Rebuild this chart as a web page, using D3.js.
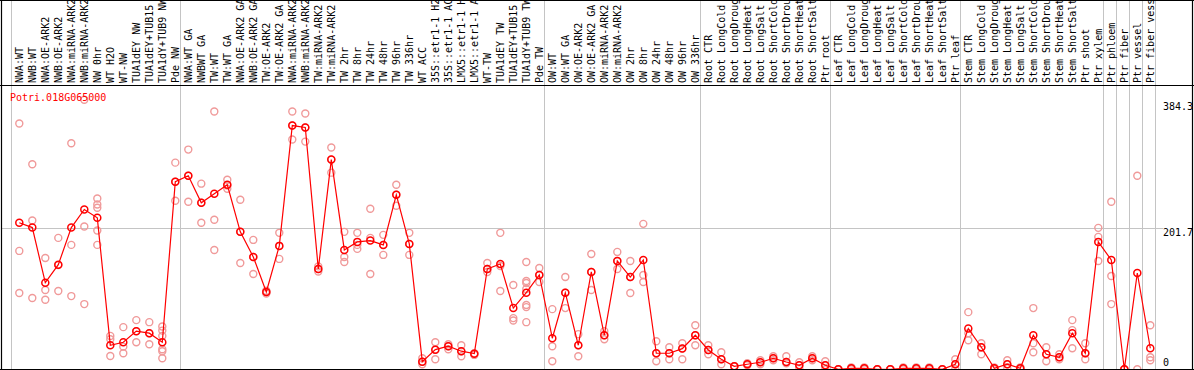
<!DOCTYPE html>
<html>
<head>
<meta charset="utf-8">
<title>Potri.018G065000</title>
<script src="https://d3js.org/d3.v7.min.js"></script>
<style>
  body { margin: 0; background: #fff; }
  text { font-family: "DejaVu Sans Mono", monospace; font-size: 10px; }
</style>
</head>
<body>
<svg width="1194" height="370"></svg>
<script>
// gene shown in the plot
var geneId = "Potri.018G065000";

// sample names, in plot order
var categories = [
  "NWA:WT", "NWB:WT", "NWA:OE-ARK2", "NWB:OE-ARK2", "NWA:miRNA-ARK2", "NWB:miRNA-ARK2",
  "NW 0hr", "WT H2O", "WT-NW", "TUA1dEY NW", "TUA1dEY+TUB15", "TUA1dY+TUB9 NW", "Pde NW",
  "NWA:WT GA", "NWBWT GA", "TW:WT", "TW:WT GA", "NWA:OE-ARK2 GA", "NWB:OE-ARK2 GA",
  "TW:OE-ARK2", "TW:OE-ARK2 GA", "NWA:miRNA-ARK2", "NWB:miRNA-ARK2", "TW:miRNA-ARK2",
  "TW:miRNA-ARK2", "TW 2hr", "TW 8hr", "TW 24hr", "TW 48hr", "TW 96hr", "TW 336hr",
  "WT ACC", "35S::etr1-1 H2O", "35S::etr1-1 ACC", "LMX5::etr1-1 H2O", "LMX5::etr1-1 ACC",
  "WT-TW", "TUA1dEY TW", "TUA1dEY+TUB15", "TUA1dY+TUB9 TW", "Pde TW",
  "OW:WT", "OW:WT GA", "OW:OE-ARK2", "OW:OE-ARK2 GA", "OW:miRNA-ARK2", "OW:miRNA-ARK2",
  "OW 2hr", "OW 8hr", "OW 24hr", "OW 48hr", "OW 96hr", "OW 336hr",
  "Root CTR", "Root LongCold", "Root LongDrought", "Root LongHeat", "Root LongSalt",
  "Root ShortCold", "Root ShortDrought", "Root ShortHeat", "Root ShortSalt", "Ptr root",
  "Leaf CTR", "Leaf LongCold", "Leaf LongDrought", "Leaf LongHeat", "Leaf LongSalt",
  "Leaf ShortCold", "Leaf ShortDrought", "Leaf ShortHeat", "Leaf ShortSalt", "Ptr leaf",
  "Stem CTR", "Stem LongCold", "Stem LongDrought", "Stem LongHeat", "Stem LongSalt",
  "Stem ShortCold", "Stem ShortDrought", "Stem ShortHeat", "Stem ShortSalt", "Ptr shoot",
  "Ptr xylem", "Ptr phloem", "Ptr fiber", "Ptr vessel", "Ptr fiber vessel"
];

// how many samples in each block (separated by grey lines)
var groupSizes = [13, 28, 12, 10, 10, 11, 1, 1, 1, 1];

// mean expression per sample
var means = [
  208.9, 202.1, 123.5, 149.2, 202.1, 227.9, 216.0, 34.3, 38.6, 54.4, 51.5, 38.6, 267.5,
  276.1, 237.5, 250.4, 263.2, 196.0, 160.2, 110.2, 176.0, 347.6, 344.8, 143.1, 299.0,
  170.2, 181.7, 183.5, 177.4, 248.9, 178.8, 10.9, 28.0, 32.9, 25.8, 22.3,
  143.1, 150.2, 87.3, 109.2, 134.5,
  44.3, 109.2, 34.3, 138.8, 48.6, 154.5, 131.6, 155.9, 22.9, 22.9, 29.5, 48.6,
  27.6, 14.3, 4.3, 7.2, 10.0, 15.7, 10.4, 5.7, 15.7, 5.7,
  0, 1.4, 1.4, 0, 0, 1.4, 1.4, 1.4, 0, 7.2,
  58.1, 31.5, 1.4, 7.2, 1.4, 48.6, 21.5, 17.2, 51.5, 22.9, 181.7,
  155.9, 0, 137.3, 30.0
];

// individual replicate values per sample
var replicates = [
  [350.5, 168.8, 108.7], [292.3, 212.2, 101.6], [158.8, 113.0, 99.1], [187.4, 148.6, 111.6],
  [322.3, 177.4, 104.4], [384.3, 203.6, 93.0], [243.6, 235.0, 230.3, 197.9, 177.4],
  [47.6, 42.9, 19.0], [60.1, 32.3, 22.9], [70.1, 54.4, 38.6], [67.2, 51.5, 35.8],
  [61.1, 55.2, 47.6, 28.6, 25.8, 15.7], [294.7, 267.5, 240.3],
  [313.3, 276.1, 238.9], [264.7, 237.5, 208.9], [367.7, 213.2, 170.2], [270.4, 262.0, 257.5],
  [241.8, 196.0, 151.6], [184.5, 160.2, 135.9], [112.0, 110.2, 108.0], [194.6, 176.0, 157.4],
  [367.7, 347.6, 327.6], [364.8, 344.8, 324.7], [146.8, 143.1, 139.5], [316.2, 299.0, 280.4],
  [196.0, 160.2, 153.1], [194.6, 177.4, 171.7], [228.9, 187.4, 135.9], [191.7, 177.4, 163.1],
  [263.2, 248.9, 233.2], [194.6, 178.8, 163.1], [15.7, 10.9, 7.2], [38.6, 28.0, 14.3],
  [35.8, 32.9, 28.6], [34.3, 25.8, 18.6], [22.9, 22.3, 20.5],
  [151.6, 143.1, 138.8], [194.6, 147.4, 111.6], [120.2, 73.0, 69.5],
  [153.1, 125.9, 123.0, 114.4, 91.6, 88.7, 67.2], [144.5, 134.5, 124.5],
  [85.8, 32.9, 11.4], [131.6, 109.2, 87.3], [50.1, 34.3, 18.6], [164.5, 138.8, 113.0],
  [54.4, 48.6, 42.9], [167.4, 154.5, 143.1], [154.5, 131.6, 108.7], [207.4, 134.5, 124.5],
  [40.1, 22.9, 11.4], [31.5, 22.9, 14.3], [37.2, 29.5, 14.3], [62.9, 48.6, 34.3],
  [34.3, 27.6, 21.5], [24.3, 14.3, 7.2], [4.3, 4.3, 4.3], [8.6, 7.2, 5.7], [12.9, 10.0, 7.2],
  [18.6, 15.7, 12.9], [18.6, 10.4, 8.6], [10.0, 5.7, 1.4], [18.6, 15.7, 12.9], [11.4, 5.7, 0],
  [0, 0, 0], [2.8, 1.4, 0], [2.8, 1.4, 0], [0, 0, 0], [0, 0, 0], [2.8, 1.4, 0], [2.8, 1.4, 0],
  [2.8, 1.4, 0], [0, 0, 0], [14.3, 7.2, 0],
  [81.5, 51.3, 41.5], [37.2, 31.5, 21.5], [2.8, 1.4, 0], [12.9, 7.2, 1.4], [2.8, 1.4, 0],
  [87.3, 37.2, 24.3], [31.5, 21.5, 11.4], [21.5, 17.2, 14.3], [70.1, 55.8, 30.0],
  [37.2, 22.9, 14.3], [201.7, 188.8, 154.5],
  [238.9, 133.0, 93.0], [0, 0, 0], [276.1, 0], [62.9, 17.2, 12.9]
];

// right hand axis labels
var yTicks = [384.3, 201.7, 0];

var svg = d3.select("svg"),
    width = +svg.attr("width"),
    height = +svg.attr("height");

var labelBottom = 85,   // black line under the sample names
    plotBottom = 369.3;

var x = d3.scaleLinear()
    .domain([0, categories.length - 1])
    .range([19.3, 19.3 + 13 * (categories.length - 1)]);

var y = d3.scaleLinear()
    .domain([0, 384.3])
    .range([plotBottom, 99.8]);

var pinkC = "#f09a9a";

// grey separators between the sample blocks
var starts = [0];
groupSizes.forEach(function(n, i) { starts.push(starts[i] + n); });
svg.append("g")
    .selectAll("line")
    .data(starts)
    .enter().append("line")
      .attr("x1", function(d) { return Math.round(x(d) - 8.3) + 0.5; })
      .attr("x2", function(d) { return Math.round(x(d) - 8.3) + 0.5; })
      .attr("y1", 0)
      .attr("y2", plotBottom)
      .attr("stroke", "#c4c4c4");

// horizontal grid at the middle tick
svg.append("line")
    .attr("x1", 1).attr("x2", 1163)
    .attr("y1", Math.round(y(201.7)) + 0.5).attr("y2", Math.round(y(201.7)) + 0.5)
    .attr("stroke", "#c4c4c4");

// replicates
var reps = [];
replicates.forEach(function(r, i) { r.forEach(function(v) { reps.push({i: i, v: v}); }); });
svg.append("g")
    .selectAll("circle")
    .data(reps)
    .enter().append("circle")
      .attr("cx", function(d) { return x(d.i); })
      .attr("cy", function(d) { return y(d.v); })
      .attr("r", 3.5)
      .attr("fill", "none")
      .attr("stroke", pinkC)
      .attr("stroke-width", 1.4);

// mean line + points
var line = d3.line()
    .x(function(d, i) { return x(i); })
    .y(function(d) { return y(d); });

svg.append("path")
    .datum(means)
    .attr("d", line)
    .attr("fill", "none")
    .attr("stroke", "#ff0000")
    .attr("stroke-width", 1.2);

svg.append("g")
    .selectAll("circle")
    .data(means)
    .enter().append("circle")
      .attr("cx", function(d, i) { return x(i); })
      .attr("cy", function(d) { return y(d); })
      .attr("r", 3.5)
      .attr("fill", "none")
      .attr("stroke", "#ff0000")
      .attr("stroke-width", 1.5);

// frame
var frame = svg.append("g").attr("stroke", "#000").attr("stroke-width", 1.2);
frame.append("line").attr("x1", 0).attr("x2", width).attr("y1", 0.5).attr("y2", 0.5);
frame.append("line").attr("x1", 0).attr("x2", width).attr("y1", labelBottom + 0.5).attr("y2", labelBottom + 0.5);
frame.append("line").attr("x1", 0).attr("x2", width).attr("y1", plotBottom + 0.2).attr("y2", plotBottom + 0.2);
frame.append("line").attr("x1", 1.5).attr("x2", 1.5).attr("y1", 0).attr("y2", height);
frame.append("line").attr("x1", 1192.5).attr("x2", 1192.5).attr("y1", 0).attr("y2", height);

// rotated sample names, read bottom to top
svg.append("g")
    .selectAll("text")
    .data(categories)
    .enter().append("text")
      .attr("transform", function(d, i) { return "translate(" + (x(i) + 4) + "," + (labelBottom - 2) + ") rotate(-90)"; })
      .attr("text-anchor", "start")
      .attr("fill", "#000")
      .text(function(d) { return d; });

// gene name
svg.append("text")
    .attr("x", 10)
    .attr("y", 101)
    .attr("fill", "#ff0000")
    .text(geneId);

// right axis values
svg.append("g")
    .selectAll("text")
    .data(yTicks)
    .enter().append("text")
      .attr("x", 1163)
      .attr("y", function(d, i) { return i == 2 ? y(d) - 3.5 : y(d) + (i == 0 ? 10.5 : 8.5); })
      .attr("fill", "#000")
      .text(function(d) { return d; });
</script>
</body>
</html>
